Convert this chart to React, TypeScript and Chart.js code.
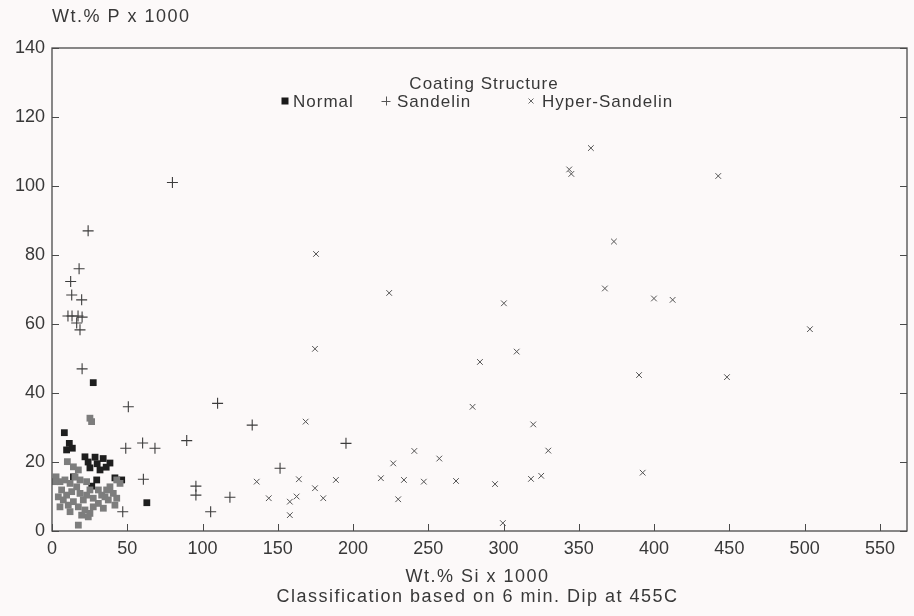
import React, { useEffect, useRef } from 'react';
import { Chart, registerables } from 'chart.js';

Chart.register(...registerables);

// ---- data (Wt.% Si x 1000, Wt.% P x 1000) ----
const normalBlack: [number, number][] = [
  [27.4, 43], [8.2, 28.5], [11.5, 25.4], [13.5, 24], [9.7, 23.5], [21.9, 21.5],
  [28.6, 21.4], [34, 21], [38.5, 19.7], [25.2, 18.3], [31.9, 17.7], [29.7, 14.8],
  [26.4, 13], [41.8, 15.4], [46.3, 14.8], [14.2, 15.7], [63, 8.2], [24, 20],
  [30, 19.5], [36, 18.5],
];

const normalGray: [number, number][] = [
  [2.7, 15.7], [5.3, 14.3], [8.6, 14.8], [12.0, 13.8], [6.4, 11.9], [9.7, 10.4],
  [13.1, 11.4], [16.4, 12.8], [18.6, 10.9], [7.5, 9.0], [10.8, 7.5], [14.2, 8.5],
  [17.5, 7.0], [20.8, 9.0], [23.0, 10.4], [25.2, 11.9], [21.9, 6.1], [25.2, 5.1],
  [27.4, 7.0], [30.8, 8.0], [27.4, 9.5], [33.0, 10.4], [36.3, 11.9], [38.5, 12.8],
  [40.7, 10.9], [43.0, 9.5], [37.4, 9.0], [34.1, 6.6], [18.6, 14.8], [15.3, 15.7],
  [5.3, 7.0], [12.0, 5.6], [19.7, 4.6], [24.1, 4.1], [43.0, 14.8], [45.2, 13.8],
  [30.8, 11.9], [14.2, 18.6], [17.5, 17.7], [10.2, 20.1], [2.0, 14.3], [4.2, 9.9],
  [23.0, 14.3], [35.2, 9.9], [41.8, 7.5], [17.5, 1.7], [26.3, 31.7], [25.2, 32.7],
];

const sandelin: [number, number][] = [
  [24, 87], [18, 76], [12.4, 72.3], [13.1, 68.4], [19.7, 67], [10.6, 62.3],
  [13.3, 62.3], [17.3, 62.3], [20, 62], [16.4, 60.3], [18.6, 58.3], [20, 47],
  [50.7, 36], [49, 24], [60.2, 25.5], [68.4, 24], [60.7, 15], [47, 5.6],
  [80, 101], [110, 37], [133, 30.7], [89.5, 26.2], [95.6, 13], [95.6, 10.4],
  [118.2, 9.8], [105.4, 5.6], [151.5, 18.2], [195.3, 25.4],
];

const hyperSandelin: [number, number][] = [
  [168.5, 31.7], [136, 14.3], [164, 15], [174.7, 12.4], [144, 9.5], [158, 8.5],
  [162.5, 10], [158, 4.6], [188.6, 14.8], [180.2, 9.5], [218.5, 15.3], [226.7, 19.6],
  [240.7, 23.2], [257.3, 21], [233.8, 14.8], [247, 14.3], [268.4, 14.5], [230, 9.2],
  [279.4, 36], [294.3, 13.6], [299.5, 2.3], [319.7, 30.9], [329.7, 23.3], [318.2, 15.1],
  [325, 16], [392.4, 16.9], [358, 111], [343.6, 104.8], [345, 103.5], [442.6, 102.9],
  [373.3, 83.9], [367.3, 70.3], [399.9, 67.4], [412.3, 67], [300.2, 66], [308.7, 52],
  [503.5, 58.5], [175.4, 80.3], [224, 69], [174.7, 52.8], [284.3, 49], [390, 45.2],
  [448.4, 44.6],
];

const xTicks = [0, 50, 100, 150, 200, 250, 300, 350, 400, 450, 500, 550];
const yTicks = [0, 20, 40, 60, 80, 100, 120, 140];

const seriesLabels = ['Normal', 'Sandelin', 'Hyper-Sandelin'];
const legendTitle = 'Coating Structure';
const yTitle = 'Wt.% P x 1000';
const xTitle = ['Wt.% Si x 1000', 'Classification based on 6 min. Dip at 455C'];

const TEXT = '#383838';
const AXIS = '#4a4a4a';
const FONT = "'Liberation Sans', Arial, sans-serif";

const toXY = (arr: [number, number][]) => arr.map(([x, y]) => ({ x, y }));

// legend layout (pixel positions of the legend drawn inside the plot)
const LEGEND_TITLE_Y = 84;
const LEGEND_ITEM_Y = 101;
const LEGEND_MARKER_X = [285, 386, 531];
const LEGEND_TEXT_X = [293, 397, 542];

const framePlugin = {
  id: 'frameTicks',
  beforeDraw(chart: any) {
    const { ctx, width, height } = chart;
    ctx.save();
    ctx.fillStyle = '#fcf9f9';
    ctx.fillRect(0, 0, width, height);
    ctx.restore();
  },
  afterDatasetsDraw(chart: any) {
    const { ctx, chartArea: a, scales } = chart;
    const x = scales.x;
    const y = scales.y;
    ctx.save();
    ctx.strokeStyle = AXIS;
    ctx.lineWidth = 1.3;
    ctx.strokeRect(a.left, a.top, a.right - a.left, a.bottom - a.top);
    ctx.lineWidth = 1;
    ctx.beginPath();
    xTicks.forEach((v) => {
      const p = Math.round(x.getPixelForValue(v)) + 0.5;
      ctx.moveTo(p, a.bottom);
      ctx.lineTo(p, a.bottom - 7);
    });
    yTicks.forEach((v) => {
      const p = Math.round(y.getPixelForValue(v)) + 0.5;
      ctx.moveTo(a.left, p);
      ctx.lineTo(a.left + 7, p);
      ctx.moveTo(a.right, p);
      ctx.lineTo(a.right - 7, p);
    });
    ctx.stroke();

    ctx.fillStyle = TEXT;
    ctx.textBaseline = 'middle';
    try { (ctx as any).letterSpacing = '1.5px'; } catch (e) { /* ignore */ }

    // y axis title above the axis
    ctx.font = `18px ${FONT}`;
    ctx.textAlign = 'left';
    ctx.fillText(yTitle, a.left, 17);

    // x axis title (two lines) under the tick labels
    ctx.textAlign = 'center';
    const cxAxis = (a.left + a.right) / 2 - 2;
    ctx.fillText(xTitle[0], cxAxis, 577);
    ctx.fillText(xTitle[1], cxAxis, 597);

    // legend inside the plot area
    ctx.font = `17px ${FONT}`;
    try { (ctx as any).letterSpacing = '1px'; } catch (e) { /* ignore */ }
    ctx.fillText(legendTitle, 484, LEGEND_TITLE_Y);
    ctx.textAlign = 'left';
    seriesLabels.forEach((l, i) => {
      const mx = LEGEND_MARKER_X[i];
      const ly = LEGEND_ITEM_Y;
      ctx.beginPath();
      if (i === 0) {
        ctx.fillStyle = '#1a1a1a';
        ctx.fillRect(mx - 3.5, ly - 3.5, 7, 7);
      } else if (i === 1) {
        ctx.strokeStyle = '#555';
        ctx.moveTo(mx - 4.5, ly + 0.5);
        ctx.lineTo(mx + 4.5, ly + 0.5);
        ctx.moveTo(mx + 0.5, ly - 4.5);
        ctx.lineTo(mx + 0.5, ly + 4.5);
        ctx.stroke();
      } else {
        ctx.strokeStyle = '#666';
        ctx.moveTo(mx - 2.5, ly - 2.5);
        ctx.lineTo(mx + 2.5, ly + 2.5);
        ctx.moveTo(mx + 2.5, ly - 2.5);
        ctx.lineTo(mx - 2.5, ly + 2.5);
        ctx.stroke();
      }
      ctx.fillStyle = TEXT;
      ctx.fillText(l, LEGEND_TEXT_X[i], ly + 1);
    });
    try { (ctx as any).letterSpacing = '0px'; } catch (e) { /* ignore */ }
    ctx.restore();
  },
};

export default function App() {
  const ref = useRef<HTMLCanvasElement | null>(null);
  useEffect(() => {
    if (!ref.current) return;
    const chart = new Chart(ref.current, {
      type: 'scatter',
      data: {
        datasets: [
          {
            label: 'Normal (grey)',
            data: toXY(normalGray),
            pointStyle: 'rect',
            pointRadius: 4.8,
            pointBackgroundColor: '#7d7d7d',
            pointBorderColor: '#7d7d7d',
            pointBorderWidth: 0,
          },
          {
            label: seriesLabels[0],
            data: toXY(normalBlack),
            pointStyle: 'rect',
            pointRadius: 4.8,
            pointBackgroundColor: '#1e1e1e',
            pointBorderColor: '#1e1e1e',
            pointBorderWidth: 0,
          },
          {
            label: seriesLabels[1],
            data: toXY(sandelin),
            pointStyle: 'cross',
            pointRadius: 5.5,
            pointBorderColor: '#3c3c3c',
            pointBorderWidth: 1.1,
          },
          {
            label: seriesLabels[2],
            data: toXY(hyperSandelin),
            pointStyle: 'crossRot',
            pointRadius: 4,
            pointBorderColor: '#555',
            pointBorderWidth: 1,
          },
        ],
      },
      options: {
        responsive: false,
        animation: false,
        layout: { padding: { top: 48, right: 7, left: 0, bottom: 0 } },
        plugins: {
          legend: { display: false },
          tooltip: { enabled: false },
          title: { display: false },
        },
        scales: {
          x: {
            type: 'linear',
            min: 0,
            max: 568,
            grid: { display: false, drawTicks: false },
            border: { display: false },
            afterBuildTicks: (s: any) => {
              s.ticks = xTicks.map((v) => ({ value: v }));
            },
            afterFit: (s: any) => {
              s.height = 85;
            },
            ticks: {
              padding: 7,
              color: TEXT,
              font: { family: FONT, size: 18 },
              maxRotation: 0,
            },
            title: { display: false },
          },
          y: {
            type: 'linear',
            min: 0,
            max: 140,
            grid: { display: false, drawTicks: false },
            border: { display: false },
            afterBuildTicks: (s: any) => {
              s.ticks = yTicks.map((v) => ({ value: v }));
            },
            afterFit: (s: any) => {
              s.width = 52;
            },
            ticks: {
              padding: 7,
              color: TEXT,
              font: { family: FONT, size: 18 },
            },
          },
        },
      },
      plugins: [framePlugin],
    });
    return () => chart.destroy();
  }, []);

  return (
    <div style={{ position: 'absolute', left: 0, top: 0, width: 914, height: 616, background: '#fcf9f9' }}>
      <canvas ref={ref} width={914} height={616} style={{ display: 'block' }} />
    </div>
  );
}
